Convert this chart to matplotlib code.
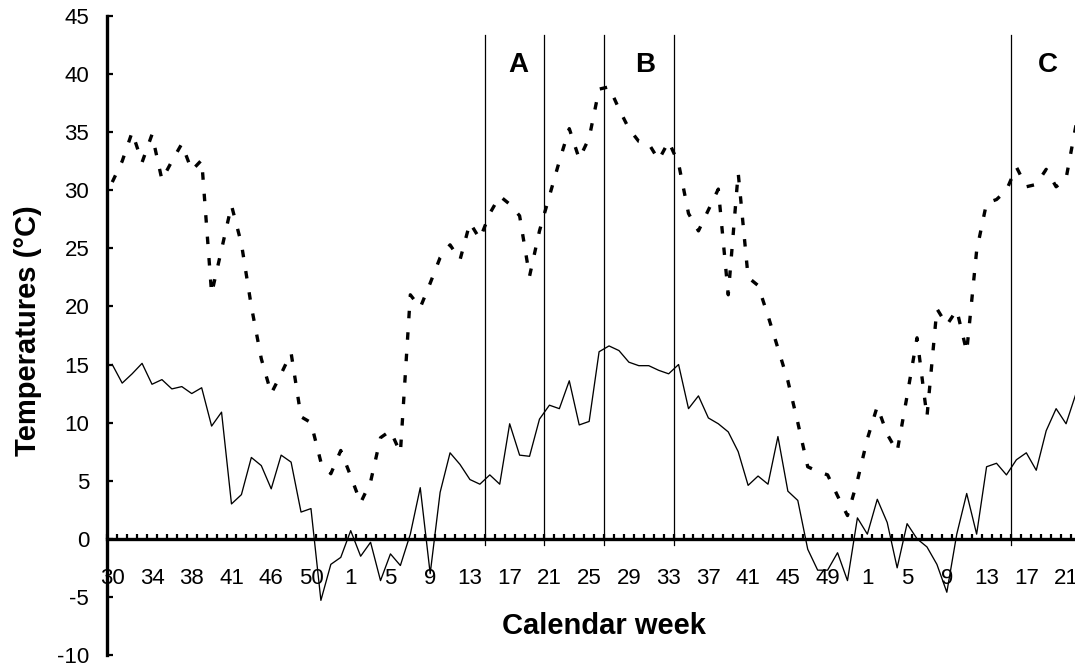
import matplotlib
matplotlib.use("Agg")
import matplotlib.pyplot as plt

plt.rcParams['font.family'] = ['Liberation Sans', 'DejaVu Sans']
plt.rcParams['axes.unicode_minus'] = False

# week labels shown under every 4th data point
week_labels = ["30", "34", "38", "41", "46", "50", "1", "5", "9", "13", "17", "21",
               "25", "29", "33", "37", "41", "45", "49", "1", "5", "9", "13", "17", "21"]

# weekly maximum temperature (dotted)
t_max = [30.7, 32.5, 35.0, 32.4, 34.8, 30.9, 32.5, 34.0, 31.7, 32.6,
         21.1, 24.9, 28.7, 25.4, 20.0, 15.5, 12.5, 14.2, 16.0, 10.5,
         10.0, 6.6, 5.6, 7.6, 5.4, 3.1, 4.9, 8.7, 9.3, 7.4,
         21.0, 19.9, 22.0, 24.2, 25.3, 24.0, 27.2, 25.8, 28.0, 29.5,
         28.8, 27.8, 22.6, 26.5, 29.5, 32.5, 35.3, 32.7, 34.5, 38.7,
         38.9, 37.0, 35.3, 34.2, 34.0, 32.6, 34.2, 32.3, 28.0, 26.5,
         28.3, 30.1, 21.0, 31.5, 22.5, 21.8, 19.2, 16.4, 13.6, 10.0,
         6.2, 5.8, 5.5, 3.7, 2.0, 5.0, 8.6, 11.4, 9.0, 7.5,
         12.3, 17.3, 10.5, 19.8, 18.4, 19.7, 16.1, 24.8, 28.9, 29.2,
         30.0, 32.0, 30.3, 30.5, 31.8, 30.3, 31.0, 35.6]

# weekly minimum temperature (solid)
t_min = [15.0, 13.4, 14.2, 15.1, 13.3, 13.7, 12.9, 13.1, 12.5, 13.0,
         9.7, 10.9, 3.0, 3.8, 7.0, 6.3, 4.3, 7.2, 6.6, 2.3,
         2.6, -5.3, -2.2, -1.6, 0.7, -1.5, -0.3, -3.6, -1.3, -2.3,
         0.4, 4.4, -3.0, 4.0, 7.4, 6.4, 5.1, 4.7, 5.5, 4.7,
         9.9, 7.2, 7.1, 10.3, 11.5, 11.2, 13.6, 9.8, 10.1, 16.1,
         16.6, 16.2, 15.2, 14.9, 14.9, 14.5, 14.2, 15.0, 11.2, 12.3,
         10.4, 9.9, 9.2, 7.5, 4.6, 5.4, 4.7, 8.8, 4.1, 3.3,
         -0.9, -2.7, -2.7, -1.2, -3.6, 1.8, 0.4, 3.4, 1.4, -2.5,
         1.3, 0.0, -0.7, -2.2, -4.6, 0.4, 3.9, 0.4, 6.2, 6.5,
         5.5, 6.8, 7.4, 5.9, 9.3, 11.2, 9.9, 12.5]

# period boundaries (between weeks) and their labels
period_lines = [37.5, 43.5, 49.5, 56.5, 90.5]
period_names = ["A", "B", "C"]
period_name_x = [40.9, 53.65, 94.2]

x = list(range(len(t_max)))

fig = plt.figure(figsize=(10.75, 6.68), dpi=100)
ax = fig.add_axes([0.0998, 0.0195, 0.9002, 0.9566])

ax.plot(x, t_max, color='black', lw=2.4, linestyle=(0, (2.25, 4.2)))
ax.plot(x, t_min, color='black', lw=0.95)

for xl in period_lines:
    ax.plot([xl, xl], [-0.5, 43.4], color='black', lw=0.9)
for name, xn in zip(period_names, period_name_x):
    ax.text(xn, 40.8, name, ha='center', va='center', fontsize=20, fontweight='bold')

ax.set_xlim(-0.5, 96.9)
ax.set_ylim(-10, 45)

ax.spines['top'].set_visible(False)
ax.spines['right'].set_visible(False)
ax.spines['bottom'].set_position(('data', 0))
ax.spines['bottom'].set_linewidth(2.4)
ax.spines['left'].set_linewidth(2.4)

ax.set_yticks(range(-10, 46, 5))
ax.tick_params(axis='y', direction='in', length=4.5, width=1.6, labelsize=16, pad=13)

ax.set_xticks(range(0, 97, 4))
ax.set_xticklabels(week_labels)
ax.set_xticks([i + 0.5 for i in range(-1, 97)], minor=True)
ax.tick_params(axis='x', which='major', length=0, labelsize=16, pad=21)
ax.tick_params(axis='x', which='minor', direction='in', length=3.6, width=1.6)

fig.text(0.026, 0.5045, 'Temperatures (°C)', rotation=90, ha='center', va='center',
         fontsize=21, fontweight='bold')
fig.text(0.5614, 0.063, 'Calendar week', ha='center', va='center',
         fontsize=21, fontweight='bold')

fig.savefig('out.png', dpi=100)
